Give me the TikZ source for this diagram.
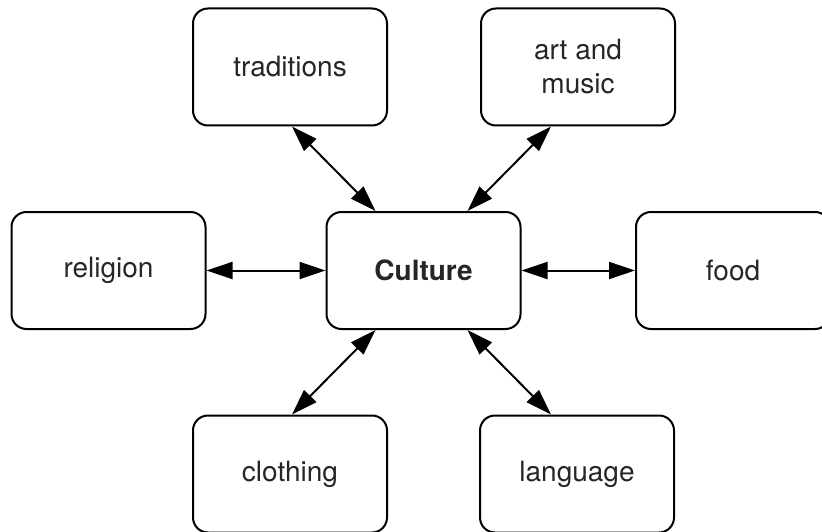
\documentclass[tikz,border=0pt]{standalone}
\usepackage{fontspec}
\setmainfont{TeX Gyre Heros}
\usetikzlibrary{arrows.meta}
\definecolor{textgrey}{HTML}{262626}
\begin{document}
\begin{tikzpicture}[x=1pt,y=-1pt,
    topic/.style={draw,line width=2pt,rounded corners=15pt,minimum width=194pt,minimum height=117pt,
      align=center,text=textgrey,font=\fontsize{28}{34}\selectfont},
    link/.style={line width=2pt,{Triangle[length=26pt,width=17pt]}-{Triangle[length=26pt,width=17pt]}}]
    \useasboundingbox (0,0) rectangle (822,532);

    \node[topic] (trad) at (290,67) {traditions};
    \node[topic] (art) at (578,67) {art and\\music};
    \node[topic] (rel) at (108.5,270.5) {religion};
    \node[topic] (cult) at (423.5,270.5) {\bfseries Culture};
    \node[topic] (food) at (733,270.5) {food};
    \node[topic] (cloth) at (290,474) {clothing};
    \node[topic] (lang) at (577,474) {language};

    \draw[link] ([xshift=2pt]trad.south) -- ([xshift=-48pt]cult.north);
    \draw[link] ([xshift=-27pt]art.south) -- ([xshift=44pt]cult.north);
    \draw[link] (rel.east) -- (cult.west);
    \draw[link] (cult.east) -- (food.west);
    \draw[link] ([xshift=-48pt]cult.south) -- ([xshift=2pt]cloth.north);
    \draw[link] ([xshift=44pt]cult.south) -- ([xshift=-26pt]lang.north);
\end{tikzpicture}
\end{document}
